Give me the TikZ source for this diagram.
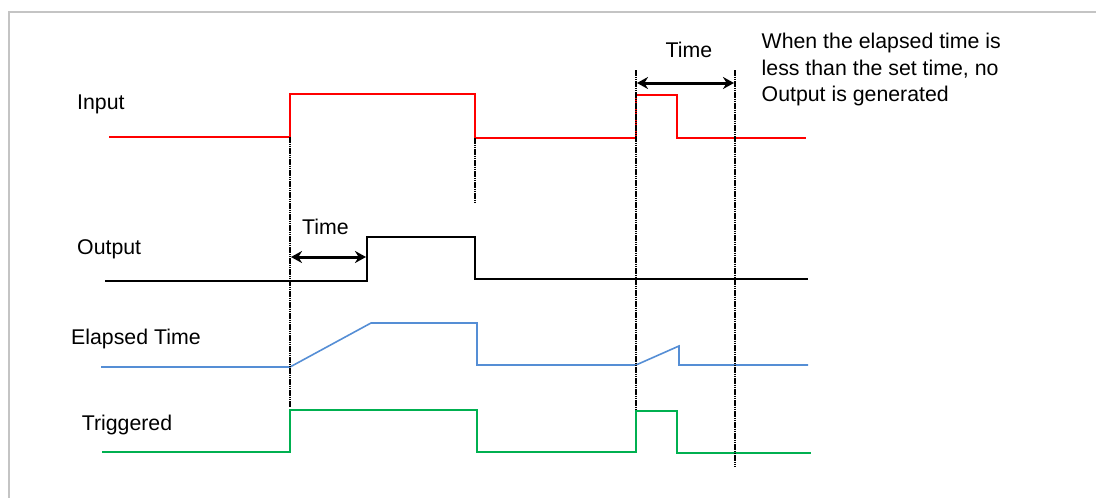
\documentclass[tikz,border=0pt]{standalone}
\usepackage{fontspec}
\setmainfont{Liberation Sans}
\usetikzlibrary{arrows.meta,positioning}
\definecolor{Ic}{HTML}{FF0000}
\definecolor{Ec}{HTML}{558ED5}
\definecolor{Tc}{HTML}{00B050}
\definecolor{framec}{HTML}{C4C4C4}
\tikzset{
  sig/.style={line width=1.6pt, line join=miter},
  guide/.style={black, dash pattern=on 1.5pt off 0.7pt, line width=2.2pt},
  timespan/.style={{Stealth[length=11pt,width=12pt]}-{Stealth[length=11pt,width=12pt]}, line width=3pt},
  lbl/.style={anchor=base west, inner sep=0pt, font=\fontsize{21.3}{26.7}\selectfont},
}
\begin{document}
\begin{tikzpicture}[x=1pt,y=-1pt]
  \useasboundingbox (0,0) rectangle (1096,498);
  \draw[framec, line width=1.5pt] (8.8,498) -- (8.8,12) -- (1096,12);
  % signal traces
  \draw[sig, Ic] (109,137) -- (290,137) -- (290,94) -- (475,94) -- (475,138) -- (636,138)
    -- (636,95) -- (677,95) -- (677,138) -- (806,138);
  \draw[sig] (105,281) -- (367,281) -- (367,237) -- (475,237) -- (475,279) -- (808,279);
  \draw[sig, Ec] (101,367) -- (290,367) -- (371,323) -- (477,323) -- (477,365) -- (636,365)
    -- (679,346) -- (679,365) -- (808,365);
  \draw[sig, Tc] (102,452) -- (290,452) -- (290,410) -- (477,410) -- (477,452) -- (636,452)
    -- (636,411) -- (677,411) -- (677,453) -- (811,453);
  % dotted guides
  \foreach \n/\x/\a/\b in {g1/290/137/407, g2/475/138/202, g3/636/70/411, g4/735/70/467}{
    \coordinate (\n t) at (\x,\a); \coordinate (\n b) at (\x,\b);
    \draw[guide] (\n t) -- (\n b);}
  \coordinate (s1l) at (291,257); \coordinate (s1r) at (366,257);
  \coordinate (s2l) at (637,83); \coordinate (s2r) at (734,83);
  \draw[timespan] (s1l) -- (s1r);
  \draw[timespan] (s2l) -- (s2r);
  \node[lbl] (input) at (77,109) {Input};
  \node[lbl] (output) at (77,254) {Output};
  \node[lbl] (elapsed) at (71,344) {Elapsed Time};
  \node[lbl] (trig) at (81.6,430) {Triggered};
  \node[lbl] (time1) at (302,234) {Time};
  \node[lbl, anchor=base] (time2) at (689,57) {Time};
  % base of a multi-line node sits on its last line
  \node[lbl, align=left] (note) at (761.5,101.7) {When the elapsed time is\\less than the set time, no\\Output is generated};
\end{tikzpicture}
\end{document}
